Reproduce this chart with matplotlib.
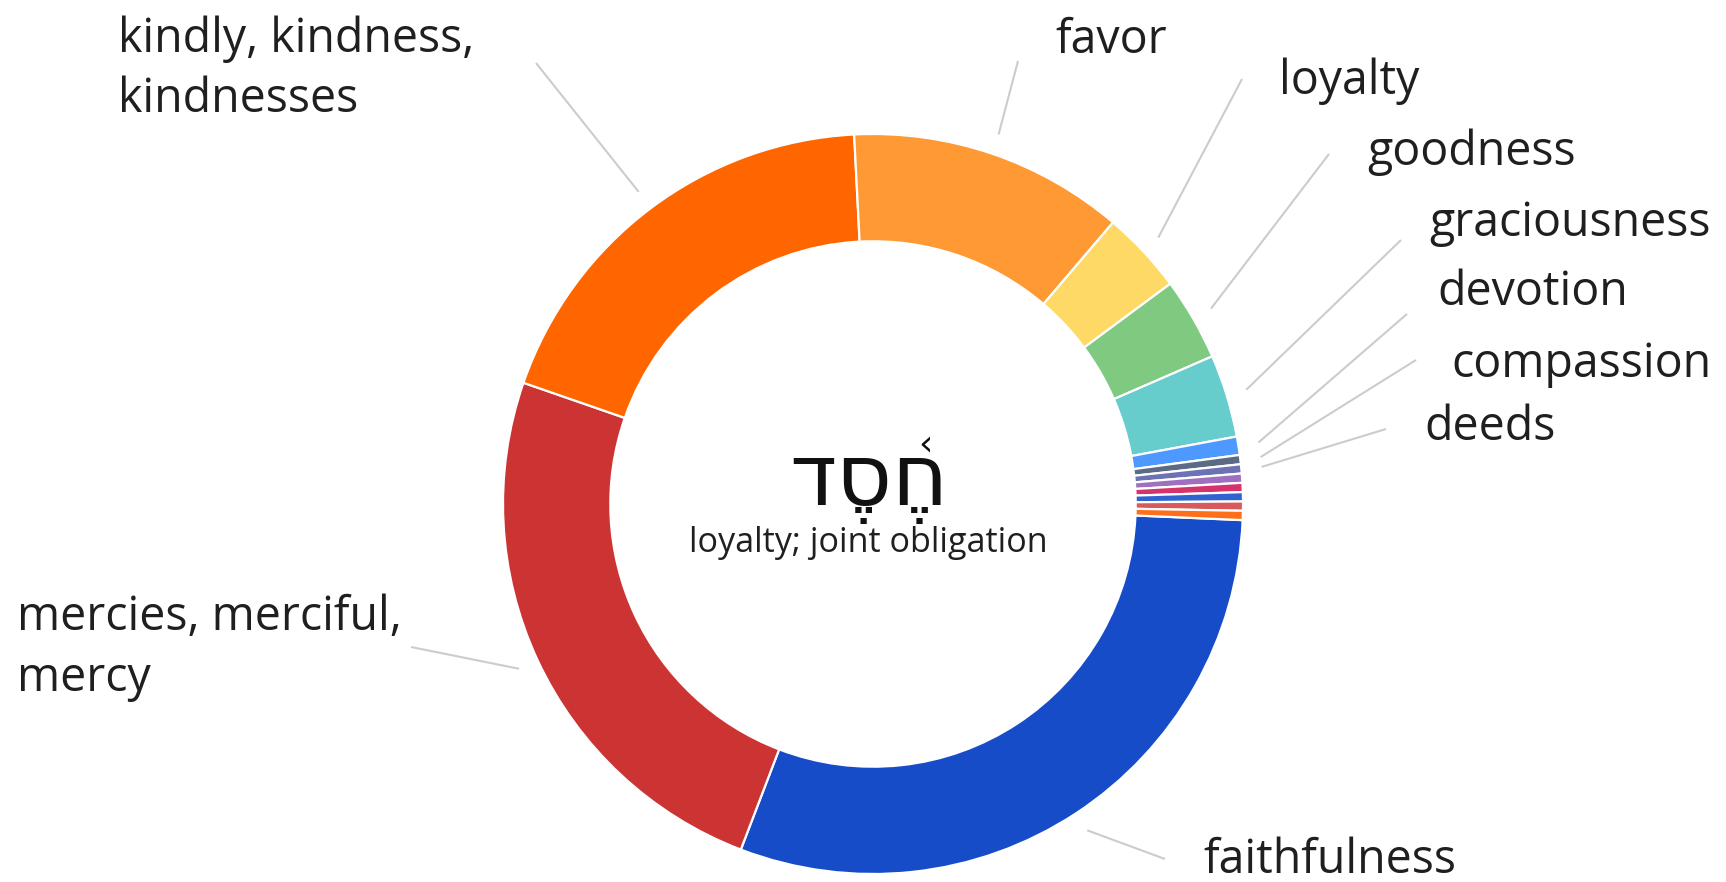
import matplotlib
matplotlib.use("Agg")
import matplotlib.pyplot as plt
import numpy as np
from matplotlib import font_manager
from matplotlib.ft2font import FT2Font

# ---------------- data ----------------
categories = ["faithfulness", "mercies, merciful,\nmercy", "kindly, kindness,\nkindnesses",
              "favor", "loyalty", "goodness", "graciousness", "devotion", "compassion",
              "deeds", "other 1", "other 2", "other 3", "other 4", "other 5"]
counts = [75, 61, 47, 30, 9, 9, 9, 2, 1, 1, 1, 1, 1, 1, 1]
colors = ["#174cc8", "#cc3333", "#ff6600", "#ff9933", "#ffd966", "#80c980", "#66cccc",
          "#4d99ff", "#5b6b86", "#6c72b3", "#a070c0", "#d6336c", "#3062d0", "#d95a5a",
          "#ff6f1a"]
shown = [True] * 10 + [False] * 5
word_letters = ["\u05d3", "\u05e1", "\u05d7"]   # dalet, samekh, het (visual left->right)
gloss = "loyalty; joint obligation"

# ---------------- layout (pixels in a 1726x882 canvas) ----------------
W, H = 1726, 882
CX, CY, R = 873, 504, 370
label_layout = {
    "faithfulness": (1203, [873], (1165, 859)),
    "mercies, merciful,\nmercy": (17, [630, 691], (411, 647)),
    "kindly, kindness,\nkindnesses": (118, [52, 112], (536, 63)),
    "favor": (1055, [53], (1018, 61)),
    "loyalty": (1279, [94], (1242, 79)),
    "goodness": (1367, [165], (1329, 154)),
    "graciousness": (1429, [236], (1401, 240)),
    "devotion": (1437, [305], (1407, 314)),
    "compassion": (1451, [377], (1416, 360)),
    "deeds": (1424, [440], (1386, 429)),
}


def px(x, y):
    return (x - CX) / R, (CY - y) / R


fig = plt.figure(figsize=(W / 100, H / 100), dpi=100)
ax = fig.add_axes([0, 0, 1, 1])
ax.pie(counts, colors=colors, startangle=-2.5, counterclock=False, radius=1.0,
       wedgeprops=dict(width=0.29, edgecolor="white", linewidth=1.6))
ax.set_xlim(-CX / R, (W - CX) / R)
ax.set_ylim(-(H - CY) / R, CY / R)
ax.set_aspect("auto")
ax.axis("off")

label_font = "Open Sans"
txt_color = "#1f1f1f"

# leader lines and labels
total = float(sum(counts))
start = -2.5
cum = 0.0
for name, c, sh in zip(categories, counts, shown):
    a1 = start - 360 * cum / total
    a2 = start - 360 * (cum + c) / total
    cum += c
    if not sh:
        continue
    mid = np.deg2rad((a1 + a2) / 2)
    x_left, baselines, (lx, ly) = label_layout[name]
    x0, y0 = 1.055 * np.cos(mid), 1.055 * np.sin(mid)
    x1, y1 = px(lx, ly)
    ax.plot([x0, x1], [y0, y1], color="#cccccc", lw=1.5, solid_capstyle="butt")
    for line, b in zip(name.split("\n"), baselines):
        tx, ty = px(x_left, b)
        ax.text(tx, ty, line, ha="left", va="baseline", fontsize=33.5,
                family=[label_font, "DejaVu Sans"], color=txt_color)


# choose a font with Hebrew letters and points
def glyph_ok(family, chars):
    try:
        path = font_manager.findfont(font_manager.FontProperties(family=family),
                                     fallback_to_default=False)
        cmap = FT2Font(path).get_charmap()
        return all(ord(ch) in cmap for ch in chars)
    except Exception:
        return False


segol, ole = "\u05b6", "\u05ab"
heb_family = "DejaVu Sans"
for fam in ["DejaVu Sans", "Liberation Sans", "DejaVu Serif", "Liberation Serif", "Noto Sans"]:
    if glyph_ok(fam, "".join(word_letters) + segol):
        heb_family = fam
        break
use_ole = glyph_ok(heb_family, ole)

# visual-order string: in this font a zero-width point sits over the glyph to its right
word = (word_letters[0] + segol + word_letters[1] + segol + (ole if use_ole else "")
        + word_letters[2])
hx, hy = px(869, 505)
ax.text(hx, hy, word, ha="center", va="baseline", fontsize=62, family=heb_family,
        color="#111111")
if not use_ole:
    ox, oy = px(925, 455)
    ax.text(ox, oy, "\u2039", ha="center", va="baseline", fontsize=26,
            family=heb_family, color="#111111")
gx, gy = px(868, 552)
ax.text(gx, gy, gloss, ha="center", va="baseline", fontsize=24.6,
        family=[label_font, "DejaVu Sans"], color=txt_color)

fig.savefig("out.png", dpi=100, facecolor="white")
